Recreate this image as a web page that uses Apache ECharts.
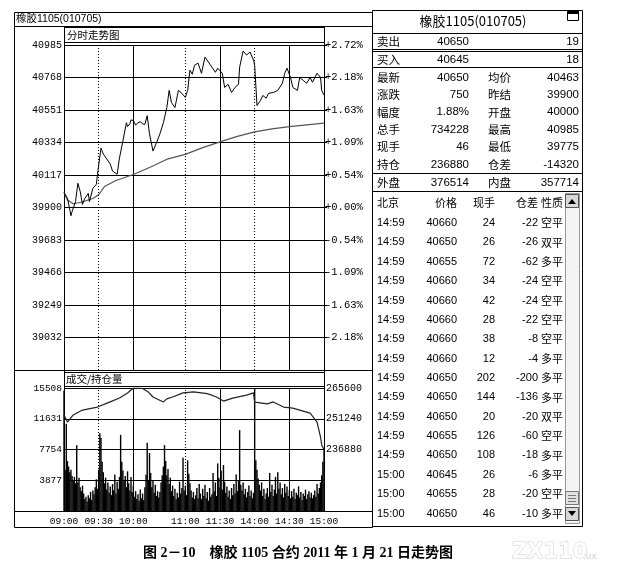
<!DOCTYPE html>
<html>
<head>
<meta charset="utf-8">
<script src="https://cdn.jsdelivr.net/npm/echarts@6/dist/echarts.min.js"></script>
<style>
html,body{margin:0;padding:0;background:#fff;}
#main{width:617px;height:575px;}
</style>
</head>
<body>
<div id="main"></div>
<script>
// trading sessions (minute categories)
const sessions = [['09:00', '10:15'], ['10:31', '11:30'], ['13:31', '15:00']];
const timeTicks = ['09:00', '09:30', '10:00', '11:00', '11:30', '14:00', '14:30', '15:00'];
const solidTicks = ['10:00', '11:30', '14:30'];
const dottedTicks = ['09:30', '11:00', '14:00'];

const preSettle = 39900;

// price line, read at minute index
const priceAt = [0, 3, 5, 6, 7, 10, 12, 14, 16, 18, 21, 22, 25, 28, 29, 32, 34, 37, 40, 42, 46, 48, 51, 54, 55, 57, 58, 60, 62, 64, 66, 68, 70, 72, 74, 77, 80, 83, 86, 89, 91, 93, 96, 99, 102, 105, 107, 109, 111, 113, 116, 119, 122, 125, 128, 131, 133, 137, 139, 142, 145, 148, 151, 152, 155, 158, 161, 164, 165, 167, 170, 172, 175, 177, 181, 185, 189, 191, 193, 196, 198, 202, 204, 207, 210, 213, 215, 219, 222, 223, 225];
const priceVal = [40000, 39961, 39887, 39845, 39873, 39940, 40062, 40008, 39920, 39961, 39994, 39940, 40028, 40055, 40122, 40297, 40257, 40224, 40190, 40143, 40122, 40230, 40345, 40466, 40440, 40459, 40485, 40480, 40450, 40466, 40472, 40459, 40455, 40513, 40392, 40277, 40331, 40392, 40466, 40567, 40682, 40601, 40567, 40682, 40662, 40635, 40682, 40817, 40790, 40850, 40864, 40796, 40904, 40871, 40837, 40803, 40830, 40796, 40702, 40722, 40668, 40702, 40722, 40837, 40945, 40918, 40938, 40884, 40850, 40581, 40614, 40648, 40630, 40662, 40668, 40682, 40729, 40796, 40830, 40769, 40702, 40682, 40769, 40749, 40729, 40769, 40736, 40796, 40769, 40682, 40650];

// average price line
const avgAt = [0, 3, 8, 15, 25, 30, 35, 45, 60, 75, 90, 105, 120, 135, 150, 165, 180, 195, 210, 225];
const avgVal = [40000, 39950, 39925, 39935, 39960, 39985, 40040, 40080, 40120, 40170, 40225, 40255, 40300, 40338, 40375, 40405, 40425, 40440, 40452, 40463];

// open interest line
const oiAt = [0, 3, 8, 16, 29, 40, 48, 55, 60, 68, 73, 77, 86, 89, 94, 103, 112, 124, 132, 138, 146, 158, 164, 165, 176, 181, 190, 198, 204, 213, 219, 222, 223, 225];
const oiVal = [253000, 249700, 253000, 255300, 256700, 259100, 260900, 263300, 265600, 265400, 263700, 261400, 259100, 260500, 261400, 263300, 263800, 263000, 261400, 259500, 260900, 262300, 263300, 259000, 258200, 259100, 256700, 256200, 255300, 253900, 249700, 242700, 239000, 236880];

// volume per minute
const volVal = [
  15200, 5200, 11000, 6300, 5600, 4900, 5200, 4400, 3800, 4300,
  3500, 8300, 3600, 4200, 3000, 2500, 3200, 2200, 1500, 1800,
  1200, 2000, 1600, 2400, 1400, 2600, 2100, 3000, 4000, 2800,
  5200, 9800, 9200, 6200, 4900, 3500, 4200, 2700, 3600, 2300,
  3100, 2000, 3400, 2600, 4600, 2200, 3700, 2800, 4300, 9600,
  6200, 5100, 3800, 4400, 3000, 5000, 3500, 2600, 4300, 2400,
  3200, 1800, 2500, 1500, 2100, 1300, 2700, 1600, 2200, 1400,
  3000, 4600, 8600, 3900, 7300, 4800, 3000, 3900, 2300, 3300,
  1900, 2500, 1700, 2400, 3600, 4500, 5600, 8300, 6300, 4500,
  5300, 3400, 4200, 2500, 3200, 1900, 2800, 1500, 2300, 1700,
  3700, 2200, 2900, 6700, 2600, 3200, 2000, 6400, 4700, 3500,
  2600, 1700, 2400, 1500, 2000, 2900, 1600, 3400, 2200, 1500,
  2800, 1900, 3300, 1600, 2400, 1300, 2900, 1800, 2100, 4800,
  2500, 3600, 1900, 6000, 4200, 3000, 5100, 2700, 5800, 3700,
  2300, 3100, 1800, 2600, 1500, 2900, 2000, 3400, 2200, 4600,
  2500, 3800, 10200, 3300, 2600, 3600, 2100, 2800, 1700, 2400,
  3200, 1900, 2600, 1600, 2300, 15508, 6400, 5200, 4100, 3300,
  2600, 3600, 1900, 2800, 1500, 2200, 2900, 1800, 4800, 2400,
  3300, 1900, 2700, 4300, 2200, 4900, 2800, 3600, 2100, 2900,
  1700, 3400, 2300, 3100, 1900, 2600, 1600, 2500, 1800, 2800,
  1500, 2300, 2000, 3100, 1700, 2400, 1400, 2200, 1900, 2700,
  1500, 2100, 2500, 1700, 2300, 1600, 2000, 2600, 1800, 3400,
  2200, 2900, 3600, 4500, 6200, 8000
];

// quote board
const bidAsk = [['卖出', '40650', '19'], ['买入', '40645', '18']];
const quoteRows = [
  ['最新', '40650', '均价', '40463'],
  ['涨跌', '750', '昨结', '39900'],
  ['幅度', '1.88%', '开盘', '40000'],
  ['总手', '734228', '最高', '40985'],
  ['现手', '46', '最低', '39775'],
  ['持仓', '236880', '仓差', '-14320']
];
const outIn = ['外盘', '376514', '内盘', '357714'];

// tick-by-tick table
const tickHeader = ['北京', '价格', '现手', '仓差', '性质'];
const tickTime = ['14:59', '14:59', '14:59', '14:59', '14:59', '14:59', '14:59', '14:59', '14:59', '14:59', '14:59', '14:59', '14:59', '15:00', '15:00', '15:00'];
const tickPrice = ['40660', '40650', '40655', '40660', '40660', '40660', '40660', '40660', '40650', '40650', '40650', '40655', '40650', '40645', '40655', '40650'];
const tickVol = ['24', '26', '72', '34', '42', '28', '38', '12', '202', '144', '20', '126', '108', '26', '28', '46'];
const tickDiff = ['-22', '-26', '-62', '-24', '-24', '-22', '-8', '-4', '-200', '-136', '-20', '-60', '-18', '-6', '-20', '-10'];
const tickType = ['空平', '双平', '多平', '空平', '空平', '空平', '空平', '多平', '多平', '多平', '双平', '空平', '多平', '多平', '空平', '多平'];

function buildMinutes() {
  const out = [];
  sessions.forEach(function (s) {
    let [h, m] = s[0].split(':').map(Number);
    const [eh, em] = s[1].split(':').map(Number);
    while (h * 60 + m <= eh * 60 + em) {
      out.push(String(h).padStart(2, '0') + ':' + String(m).padStart(2, '0'));
      m++;
      if (m === 60) { m = 0; h++; }
    }
  });
  return out;
}
const minutes = buildMinutes();
const pairs = (at, val) => at.map((a, i) => [a, val[i]]);

const MONO = '"Liberation Mono", "DejaVu Sans Mono", monospace';
const SANS = 'Arial, "Liberation Sans", "Noto Sans CJK SC", sans-serif';
const CJK = '"Noto Sans CJK SC", sans-serif';

const chart = echarts.init(document.getElementById('main'));

const g = [];
function line(x1, y1, x2, y2, style) {
  g.push({type: 'line', silent: true, shape: {x1: x1, y1: y1, x2: x2, y2: y2},
    style: Object.assign({stroke: '#000', lineWidth: 1}, style || {})});
}
function rect(x, y, w, h, style) {
  g.push({type: 'rect', silent: true, shape: {x: x, y: y, width: w, height: h},
    style: Object.assign({fill: 'none', stroke: '#000', lineWidth: 1}, style || {})});
}
function txt(x, y, s, font, align, fill) {
  g.push({type: 'text', silent: true, x: x, y: y,
    style: {text: s, font: font, fill: fill || '#000', align: align || 'left', textAlign: align || 'left',
      verticalAlign: 'middle', textVerticalAlign: 'middle'}});
}

// left panel frame
rect(14.5, 12.5, 358, 515);
line(14, 26.5, 372, 26.5);
txt(16, 19.5, '橡胶1105(010705)', '10.5px ' + SANS);
rect(64.5, 27.5, 260, 15);
txt(67, 35, '分时走势图', '10.5px ' + CJK);
line(64.5, 26, 64.5, 511);
line(324.5, 26, 324.5, 511);
line(14, 370.5, 372, 370.5);
rect(64.5, 372.5, 260, 14);
txt(66, 379.5, '成交/持仓量', '10.5px ' + CJK);
line(14, 511.5, 372, 511.5);

// right panel frame
rect(372.5, 10.5, 210, 516);
txt(473, 21.5, '橡胶1105(010705)', '13px "Noto Sans CJK SC", sans-serif', 'center');
rect(567.5, 11.5, 11, 9);
rect(567.5, 11.5, 11, 2, {fill: '#000'});
line(372, 33.5, 582, 33.5);
line(372, 49.5, 582, 49.5);
line(372, 51.5, 582, 51.5);
line(372, 67.5, 582, 67.5);
line(372, 173.5, 582, 173.5);
line(372, 191.5, 582, 191.5);

bidAsk.forEach(function (r, i) {
  const y = 41.5 + i * 18;
  txt(377, y, r[0], '11.5px ' + CJK);
  txt(469, y, r[1], '11.5px ' + SANS, 'right');
  txt(579, y, r[2], '11.5px ' + SANS, 'right');
});
quoteRows.forEach(function (r, i) {
  const y = 77.5 + i * 17.4;
  txt(377, y, r[0], '11.5px ' + CJK);
  txt(469, y, r[1], '11.5px ' + SANS, 'right');
  txt(488, y, r[2], '11.5px ' + CJK);
  txt(579, y, r[3], '11.5px ' + SANS, 'right');
});
txt(377, 182.5, outIn[0], '11.5px ' + CJK);
txt(469, 182.5, outIn[1], '11.5px ' + SANS, 'right');
txt(488, 182.5, outIn[2], '11.5px ' + CJK);
txt(579, 182.5, outIn[3], '11.5px ' + SANS, 'right');

// tick table
const hy = 203;
txt(377, hy, tickHeader[0], '11px ' + CJK);
txt(457, hy, tickHeader[1], '11px ' + CJK, 'right');
txt(495, hy, tickHeader[2], '11px ' + CJK, 'right');
txt(538, hy, tickHeader[3], '11px ' + CJK, 'right');
txt(541, hy, tickHeader[4], '11px ' + CJK);
tickTime.forEach(function (t, i) {
  const y = 223 + i * 19.37;
  txt(377, y, t, '11px ' + SANS);
  txt(457, y, tickPrice[i], '11px ' + SANS, 'right');
  txt(495, y, tickVol[i], '11px ' + SANS, 'right');
  txt(538, y, tickDiff[i], '11px ' + SANS, 'right');
  txt(541, y, tickType[i], '11px ' + CJK);
});

// scrollbar
rect(565.5, 193.5, 14, 330, {fill: '#f4f4f4', stroke: '#999'});
rect(565.5, 194.5, 13, 13, {fill: '#d8d8d8', stroke: '#555'});
g.push({type: 'polygon', silent: true, shape: {points: [[568, 204], [572, 199], [576, 204]]}, style: {fill: '#000'}});
rect(565.5, 491.5, 13, 13, {fill: '#e2e2e2', stroke: '#777'});
line(568, 495.5, 576, 495.5, {stroke: '#777'});
line(568, 498.5, 576, 498.5, {stroke: '#777'});
line(568, 501.5, 576, 501.5, {stroke: '#777'});
rect(565.5, 507.5, 13, 13, {fill: '#d8d8d8', stroke: '#555'});
g.push({type: 'polygon', silent: true, shape: {points: [[568, 511], [572, 516], [576, 511]]}, style: {fill: '#000'}});

// caption and watermark
txt(298, 553, '图 2－10　橡胶 1105 合约 2011 年 1 月 21 日走势图', 'bold 14px "Liberation Serif", "Noto Sans CJK SC", serif', 'center');
g.push({type: 'text', silent: true, x: 512, y: 553,
  style: {text: 'ZX110', font: 'bold 21px "DejaVu Sans", sans-serif', fill: '#fff', stroke: '#cfcfcf', lineWidth: 1,
    align: 'left', textAlign: 'left', verticalAlign: 'middle', textVerticalAlign: 'middle'}});
txt(583, 557, '.ux', '9px "DejaVu Sans", sans-serif', 'left', '#cfcfcf');

const dotted = {
  symbol: ['none', 'none'], silent: true, animation: false,
  label: {show: false},
  lineStyle: {type: [1, 2], color: '#000', width: 1},
  data: dottedTicks.map(t => ({xAxis: t}))
};

const option = {
  animation: false,
  backgroundColor: '#fff',
  textStyle: {fontFamily: MONO},
  grid: [
    {left: 64, top: 45, width: 260, height: 325},
    {left: 64, top: 388, width: 260, height: 123}
  ],
  xAxis: [
    {gridIndex: 0, type: 'category', data: minutes, boundaryGap: false,
      axisLine: {show: false}, axisTick: {show: false}, axisLabel: {show: false},
      splitLine: {show: true, interval: (i, v) => solidTicks.indexOf(v) >= 0, lineStyle: {color: '#000', width: 1}}},
    {gridIndex: 1, type: 'category', data: minutes, boundaryGap: false,
      axisLine: {show: false}, axisTick: {show: false},
      axisLabel: {interval: (i, v) => timeTicks.indexOf(v) >= 0, fontFamily: MONO, fontSize: 9.5, color: '#000', margin: 5},
      splitLine: {show: true, interval: (i, v) => solidTicks.indexOf(v) >= 0, lineStyle: {color: '#000', width: 1}}}
  ],
  yAxis: [
    {gridIndex: 0, type: 'value', position: 'left', min: 38815, max: 40985, interval: 217,
      axisLine: {show: true, lineStyle: {color: '#000'}}, axisTick: {show: false},
      axisLabel: {margin: 2, fontFamily: MONO, fontSize: 10, color: '#000',
        formatter: v => (v <= 38815 ? '' : String(v))},
      splitLine: {show: true, lineStyle: {color: '#000', width: 1}}},
    {gridIndex: 0, type: 'value', position: 'right', min: 38815, max: 40985, interval: 217,
      axisLine: {show: true, lineStyle: {color: '#000'}},
      axisTick: {show: true, length: 3, lineStyle: {color: '#000'}},
      axisLabel: {margin: 1, fontFamily: MONO, fontSize: 10.5, color: '#000',
        formatter: function (v) {
          if (v <= 38815) return '';
          const p = (v - preSettle) / preSettle * 100;
          return (p >= 0 ? '+' : '') + p.toFixed(2) + '%';
        }},
      splitLine: {show: false}},
    {gridIndex: 1, type: 'value', position: 'left', min: 0, max: 15508, interval: 3877,
      axisLine: {show: true, lineStyle: {color: '#000'}}, axisTick: {show: false},
      axisLabel: {margin: 2, fontFamily: MONO, fontSize: 9.5, color: '#000',
        formatter: v => (v <= 0 ? '' : String(v))},
      splitLine: {show: true, lineStyle: {color: '#000', width: 1}}},
    {gridIndex: 1, type: 'value', position: 'right', min: 208160, max: 265600, interval: 14360,
      axisLine: {show: true, lineStyle: {color: '#000'}}, axisTick: {show: false},
      axisLabel: {margin: 2, fontFamily: MONO, fontSize: 10, color: '#000',
        formatter: v => (v >= 236880 ? String(v) : '')},
      splitLine: {show: false}}
  ],
  series: [
    {name: 'price', type: 'line', xAxisIndex: 0, yAxisIndex: 0, data: pairs(priceAt, priceVal),
      symbol: 'none', lineStyle: {color: '#000', width: 1}, z: 4, markLine: dotted},
    {name: 'avg', type: 'line', xAxisIndex: 0, yAxisIndex: 0, data: pairs(avgAt, avgVal),
      symbol: 'none', lineStyle: {color: '#555', width: 1.2}, z: 3},
    {name: 'vol', type: 'bar', xAxisIndex: 1, yAxisIndex: 2, data: volVal,
      barWidth: 1.4, itemStyle: {color: '#000'}, z: 3, markLine: dotted},
    {name: 'oi', type: 'line', xAxisIndex: 1, yAxisIndex: 3, data: pairs(oiAt, oiVal),
      symbol: 'none', lineStyle: {color: '#222', width: 1.2}, z: 4}
  ],
  graphic: {elements: g}
};

chart.setOption(option);
</script>
</body>
</html>
